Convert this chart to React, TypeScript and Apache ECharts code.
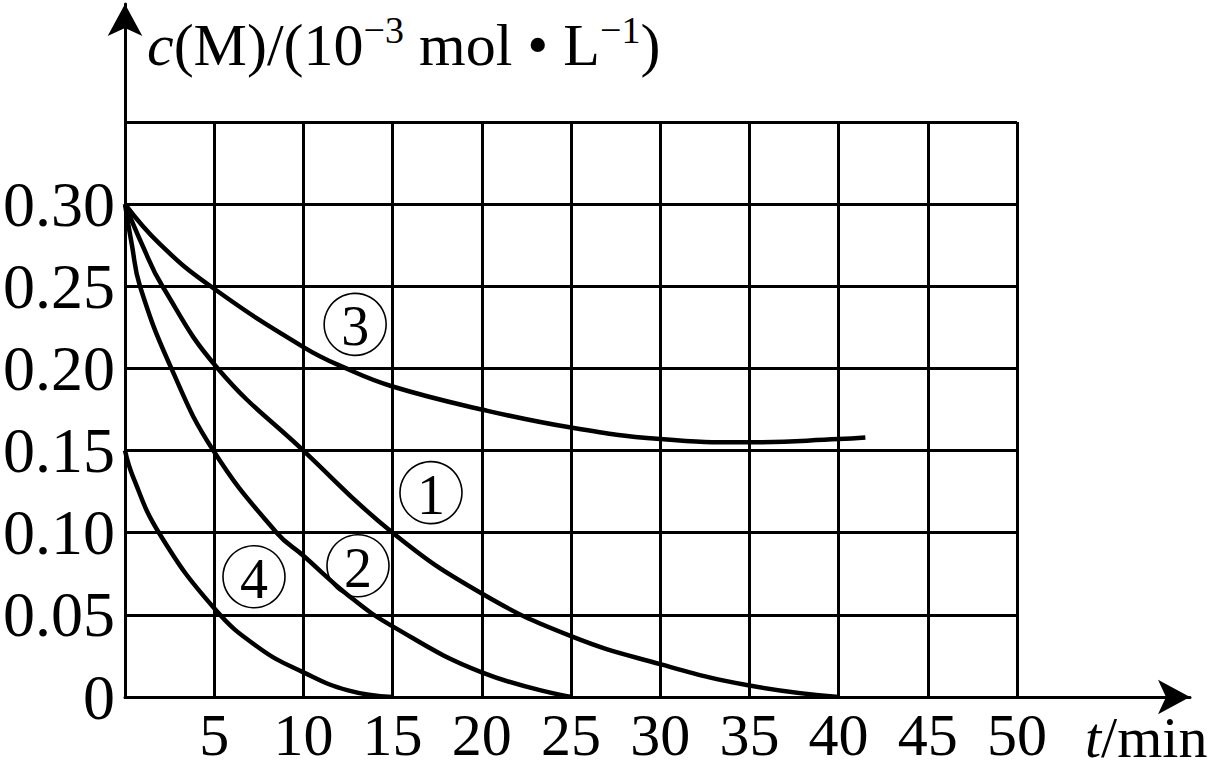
import React, { useEffect, useRef } from "react";
import * as echarts from "echarts";

// Data (t in min, c in 10^-3 mol/L)
const curve1T = [0, 0.95, 2.1, 5.2, 10, 15, 20, 25, 30, 35, 40];
const curve1C = [0.3, 0.2756, 0.25, 0.2, 0.15, 0.1, 0.063, 0.037, 0.02, 0.007, 0];

const curve2T = [0, 0.38, 0.84, 2.6, 4.95, 8.5, 10, 12.5, 15, 20, 25];
const curve2C = [0.3, 0.2756, 0.25, 0.2, 0.15, 0.1, 0.086, 0.062, 0.043, 0.015, 0];

const curve3T = [0, 1.96, 4.8, 10, 12.4, 15, 20, 25, 30, 35, 40, 41.5];
const curve3C = [0.3, 0.2756, 0.25, 0.213, 0.2, 0.189, 0.175, 0.164, 0.157, 0.155, 0.157, 0.158];

const curve4T = [0, 0.45, 1.9, 5, 7.5, 10, 12.5, 15];
const curve4C = [0.15, 0.134, 0.1, 0.054, 0.03, 0.015, 0.004, 0];

const markerText = ["1", "2", "3", "4"];
const markerT = [17.15, 13.06, 12.9, 7.23];
const markerC = [0.1244, 0.0799, 0.2268, 0.0732];

const xTicks = [0, 5, 10, 15, 20, 25, 30, 35, 40, 45, 50];
const yTickLabels = ["0", "0.05", "0.10", "0.15", "0.20", "0.25", "0.30", ""];

const FONT = "'Liberation Serif', 'Times New Roman', serif";

const zip = (t: number[], c: number[]) => t.map((v, i) => [v, c[i]]);

export default function App() {
  const ref = useRef<HTMLDivElement>(null);
  useEffect(() => {
    if (!ref.current) return;
    const chart = echarts.init(ref.current, null, { renderer: "svg" });
    const lineSeries = (d: number[][]) => ({
      type: "line",
      xAxisIndex: 0,
      yAxisIndex: 0,
      data: d,
      smooth: 0.45,
      symbol: "none",
      lineStyle: { color: "#000", width: 4.5 },
      z: 3,
    });
    chart.setOption({
      animation: false,
      backgroundColor: "#fff",
      title: [
        {
          left: 142,
          top: 6,
          text: "{i|c}{n|(M)/(10}{s|−3}{n| mol • L}{s|−1}{n|)}",
          textStyle: {
            fontWeight: "normal",
            rich: {
              i: { fontFamily: FONT, fontStyle: "italic", fontWeight: "normal", fontSize: 60, color: "#000" },
              n: { fontFamily: FONT, fontWeight: "normal", fontSize: 60, color: "#000" },
              s: {
                fontFamily: FONT,
                fontWeight: "normal",
                fontSize: 38,
                color: "#000",
                verticalAlign: "top",
                padding: [0, 0, 30, 0],
              },
            },
          },
        },
        {
          left: 1080,
          top: 703,
          text: "{i|t}{n|/min}",
          textStyle: {
            fontWeight: "normal",
            rich: {
              i: { fontFamily: FONT, fontStyle: "italic", fontWeight: "normal", fontSize: 58, color: "#000" },
              n: { fontFamily: FONT, fontWeight: "normal", fontSize: 58, color: "#000" },
            },
          },
        },
      ],
      grid: [
        { left: 125, top: 122, width: 892, height: 575, containLabel: false },
        { left: 125, top: 4, right: 27, bottom: 71, containLabel: false },
      ],
      xAxis: [
        {
          gridIndex: 0,
          type: "value",
          min: 0,
          max: 50,
          interval: 5,
          axisLine: { show: false },
          axisTick: { show: false },
          splitLine: { show: true, lineStyle: { color: "#000", width: 3 } },
          axisLabel: {
            fontFamily: FONT,
            fontSize: 60,
            color: "#000",
            margin: 8,
            formatter: (v: number) => {
              const i = xTicks.indexOf(v);
              return i > 0 ? String(xTicks[i]) : "";
            },
          },
        },
        {
          gridIndex: 1,
          type: "value",
          min: 0,
          max: 1,
          axisLine: {
            show: true,
            onZero: false,
            symbol: ["none", "arrow"],
            symbolSize: [26, 32],
            lineStyle: { color: "#000", width: 3 },
          },
          axisTick: { show: false },
          axisLabel: { show: false },
          splitLine: { show: false },
        },
      ],
      yAxis: [
        {
          gridIndex: 0,
          type: "value",
          min: 0,
          max: 0.35,
          interval: 0.05,
          axisLine: { show: false },
          axisTick: { show: false },
          splitLine: { show: true, lineStyle: { color: "#000", width: 3 } },
          axisLabel: {
            fontFamily: FONT,
            fontSize: 64,
            color: "#000",
            margin: 10,
            formatter: (v: number) => {
              const i = Math.round(v / 0.05);
              return yTickLabels[i] ?? "";
            },
          },
        },
        {
          gridIndex: 1,
          type: "value",
          min: 0,
          max: 1,
          axisLine: {
            show: true,
            onZero: false,
            symbol: ["none", "arrow"],
            symbolSize: [26, 32],
            lineStyle: { color: "#000", width: 3 },
          },
          axisTick: { show: false },
          axisLabel: { show: false },
          splitLine: { show: false },
        },
      ],
      series: [
        lineSeries(zip(curve1T, curve1C)),
        lineSeries(zip(curve2T, curve2C)),
        lineSeries(zip(curve3T, curve3C)),
        lineSeries(zip(curve4T, curve4C)),
        {
          type: "scatter",
          xAxisIndex: 0,
          yAxisIndex: 0,
          symbol: "circle",
          symbolSize: 62,
          z: 4,
          itemStyle: { color: "rgba(255,255,255,0)", borderColor: "#000", borderWidth: 1.6, opacity: 1 },
          label: {
            show: true,
            position: "inside",
            formatter: (p: any) => p.name,
            fontFamily: FONT,
            fontSize: 56,
            color: "#000",
            offset: [0, 2],
          },
          data: markerText.map((n, i) => ({ name: n, value: [markerT[i], markerC[i]] })),
        },
      ],
    });
    return () => chart.dispose();
  }, []);
  return (
    <div
      ref={ref}
      style={{ position: "fixed", left: 0, top: 0, width: 1217, height: 768, background: "#fff" }}
    />
  );
}
